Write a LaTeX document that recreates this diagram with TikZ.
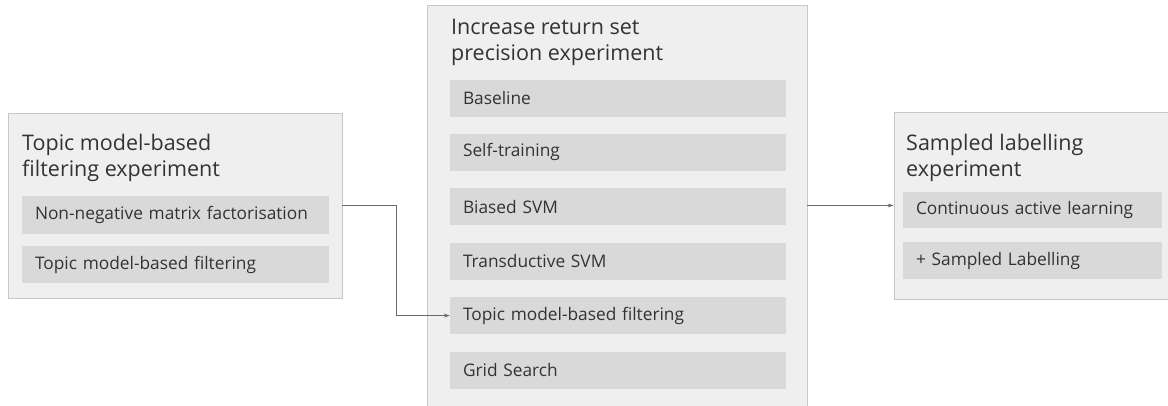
\documentclass[tikz,border=0pt]{standalone}
\usepackage{fontspec}
\setmainfont{Open Sans}
\usepackage{tikz}
\usetikzlibrary{positioning, arrows.meta}
\definecolor{boxfill}{HTML}{EFEFEF}
\definecolor{boxline}{HTML}{C8C8C8}
\definecolor{itemfill}{HTML}{D9D9D9}
\definecolor{inktext}{HTML}{333333}
\definecolor{inkline}{HTML}{6A6A6A}
\tikzset{
    groupnode/.style = {draw=boxline, fill=boxfill, rectangle, inner sep=0pt, line width=0.8pt},
    titlenode/.style = {draw=none, fill=none, anchor=north west, align=left, inner sep=0pt,
      text=inktext, font=\fontsize{21.5}{26}\selectfont},
    itemnode/.style = {fill=itemfill, rectangle, inner xsep=13pt, inner ysep=0pt, align=left,
      text=inktext, font=\fontsize{17.3}{20}\selectfont, node distance=12pt},
    connect/.style = {inkline, line width=0.8pt, -{Stealth[length=6pt,width=4pt]}}
}

\begin{document}
\begin{tikzpicture}[x=1pt, y=-1pt]
\useasboundingbox (0,0) rectangle (1168,405);

% left: topic model experiment
\node[groupnode, name=lbox, minimum width=334pt, minimum height=185pt] at (175,205.5) {};
\node[titlenode, name=ltitle] at (22,134) {Topic model-based\\filtering experiment};
\node[itemnode, name=lnmf, text width=281pt, minimum height=38pt] at (175.5,215) {Non-negative matrix factorisation};
\node[itemnode, name=ltmf, text width=281pt, minimum height=37pt, below=12pt of lnmf] {Topic model-based filtering};

% middle: return set precision experiment
\node[groupnode, name=mbox, minimum width=380pt, minimum height=410pt] at (617,210) {};
\node[titlenode, name=mtitle] at (451,19) {Increase return set\\precision experiment};
\node[itemnode, name=mbase, text width=310pt, minimum height=37pt] at (618,98) {Baseline};
\node[itemnode, name=mself, text width=310pt, minimum height=37pt, below=17pt of mbase] {Self-training};
\node[itemnode, name=mbias, text width=310pt, minimum height=37pt, below=17pt of mself] {Biased SVM};
\node[itemnode, name=mtsvm, text width=310pt, minimum height=37pt, below=17pt of mbias] {Transductive SVM};
\node[itemnode, name=mtopic, text width=310pt, minimum height=37pt, below=17pt of mtsvm] {Topic model-based filtering};
\node[itemnode, name=mgrid, text width=310pt, minimum height=37pt, below=17pt of mtopic] {Grid Search};

% right: sampled labelling experiment
\node[groupnode, name=rbox, minimum width=274pt, minimum height=187pt] at (1031,205.5) {};
\node[titlenode, name=rtitle] at (906,134) {Sampled labelling\\experiment};
\node[itemnode, name=rcal, text width=233pt, minimum height=36pt] at (1032.5,210) {Continuous active learning};
\node[itemnode, name=rsl, text width=233pt, minimum height=37pt, below=14pt of rcal] {+ Sampled Labelling};

% connectors
\draw[connect] (lbox.east) -- ++(54,0) |- (mtopic.west);
\draw[connect] (rbox.west -| mbox.east) -- (rbox.west);
\end{tikzpicture}
\end{document}
